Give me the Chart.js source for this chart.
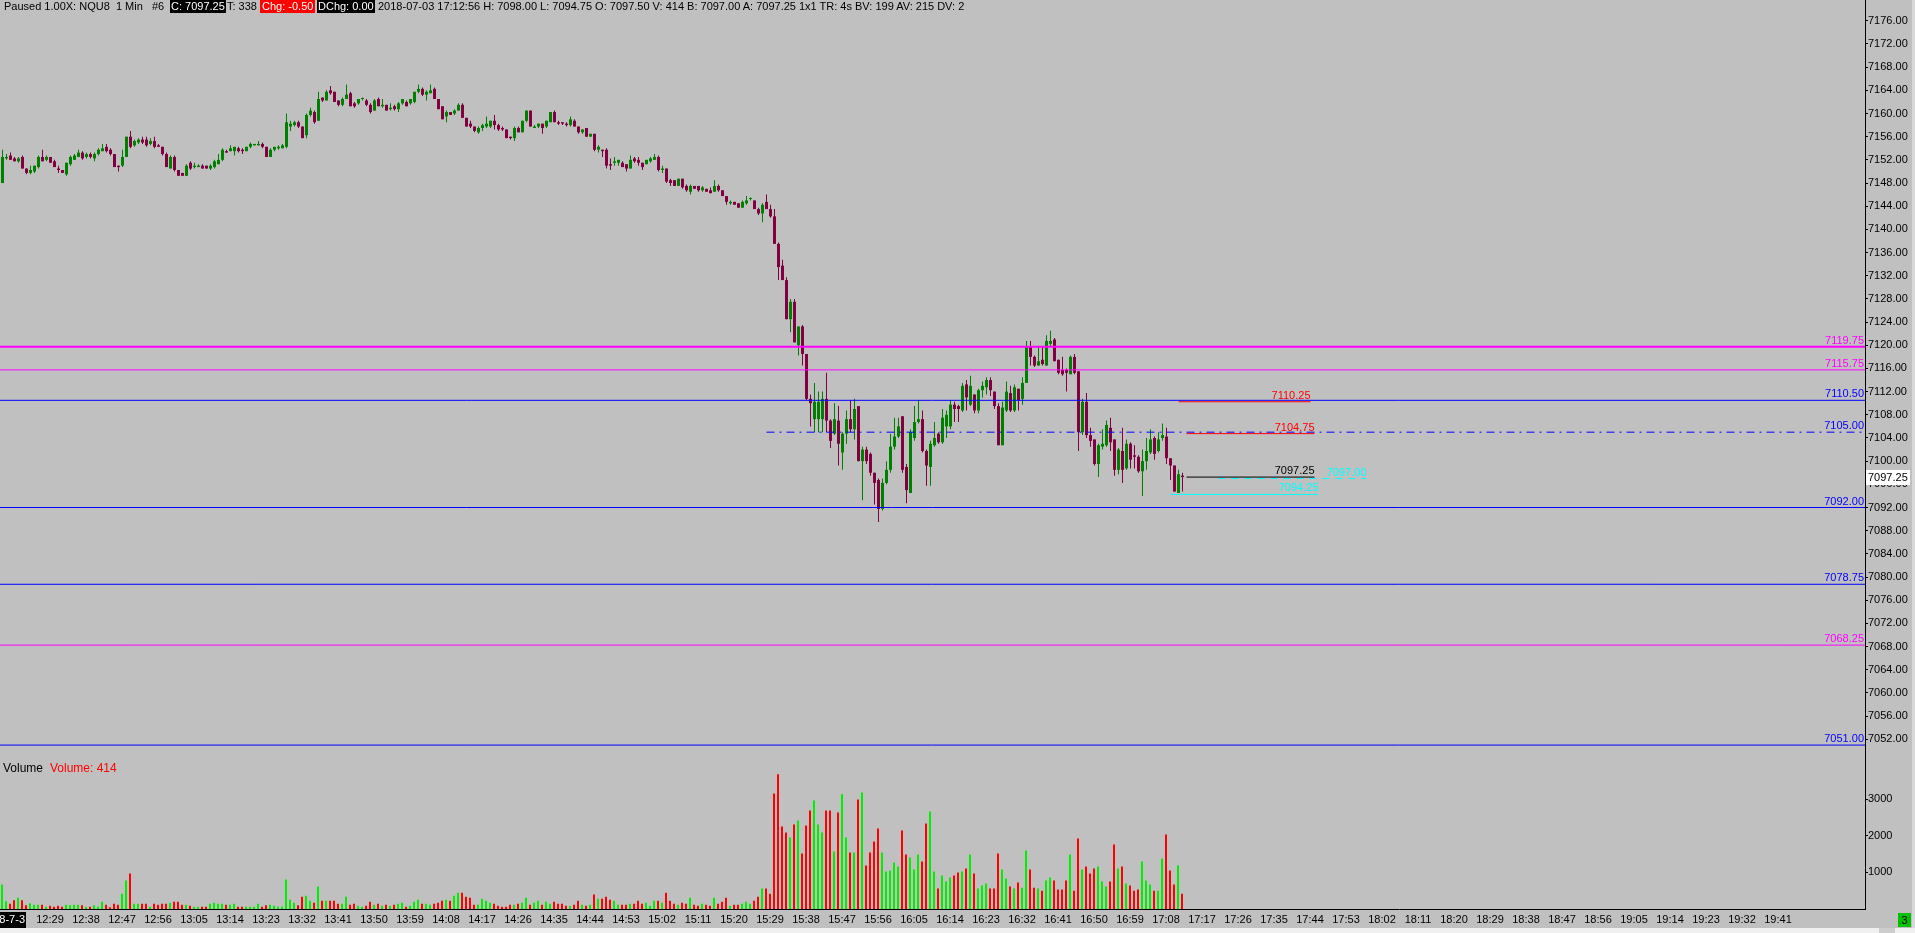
<!DOCTYPE html>
<html><head><meta charset="utf-8">
<script src="https://cdn.jsdelivr.net/npm/chart.js@4.4.0/dist/chart.umd.min.js"></script>
<style>
html,body{margin:0;padding:0;background:#c0c0c0;overflow:hidden}
#wrap{position:relative;width:1915px;height:933px;background:#c0c0c0;font-family:"Liberation Sans",Arial,sans-serif;font-size:11px;color:#000}
canvas{position:absolute;left:0}
.t{position:absolute;top:0;height:13px;line-height:13px;white-space:pre;z-index:2}
.bx{color:#fff;background:#000;padding:0 1px}
.vl{position:absolute;top:761px;font-size:12px;line-height:14px;white-space:pre;z-index:2}
</style></head><body>
<div id="wrap">
<canvas id="pc" width="1915" height="757" style="top:0;width:1915px;height:757px"></canvas>
<canvas id="vc" width="1915" height="176" style="top:757px;width:1915px;height:176px"></canvas>
<div class="t" style="left:4px">Paused 1.00X: NQU8  1 Min   #6</div>
<div class="t bx" style="left:170px">C: 7097.25</div>
<div class="t" style="left:227px">T: 338</div>
<div class="t bx" style="left:260px;background:#ff0000;padding:0 2px">Chg: -0.50</div>
<div class="t bx" style="left:317px">DChg: 0.00</div>
<div class="t" style="left:378px">2018-07-03 17:12:56 H: 7098.00 L: 7094.75 O: 7097.50 V: 414 B: 7097.00 A: 7097.25 1x1 TR: 4s BV: 199 AV: 215 DV: 2</div>
<div class="vl" style="left:3px">Volume</div>
<div class="vl" style="left:50px;color:#ff0000">Volume: 414</div>
<div style="position:absolute;left:1912px;top:0;width:3px;height:928px;background:#d8d8d8"></div>
<div style="position:absolute;left:0;top:928px;width:1915px;height:5px;background:#f0f0f0"></div>
<div style="position:absolute;left:1879px;top:928px;width:16px;height:5px;background:#cdcdcd"></div>
<div style="position:absolute;left:1898px;top:913px;width:13px;height:14px;background:#00c000;color:#000;font-size:11px;line-height:14px;text-align:center">3</div>
</div>
<script>
// ---------------- DATA ----------------
const firstBarTime = '12:17';
const open = [7148,7152.25,7152.75,7152.25,7151.75,7152.5,7150.5,7149.75,7150,7150.75,
7152.5,7152,7152.5,7151.75,7150.5,7150.25,7149.5,7151.25,7152,7152.5,
7153.25,7152.5,7153,7152.25,7153,7153.5,7154.25,7153.75,7153,7151,
7151,7152.5,7156,7154.5,7155,7155.5,7155.5,7154.75,7155.25,7154.5,
7154.25,7153,7150.5,7152.5,7150.25,7149.75,7149.25,7151.5,7150.75,7150.75,
7151,7151,7150.5,7150.75,7151.25,7152,7153.5,7153.5,7153.5,7154,
7153.75,7153.5,7154.25,7154.5,7154.5,7154.75,7154.25,7152.5,7153.75,7154,
7154,7154.25,7157.75,7158,7158.5,7157.75,7156.25,7159.75,7160.25,7158.75,
7162.75,7162.25,7164,7163.75,7162.25,7161.5,7162.5,7163.5,7161.75,7161.75,
7162.5,7162.25,7161.5,7160.5,7162.5,7161.25,7161.5,7160.75,7161.25,7160.75,
7161.75,7162,7161.75,7162,7163.75,7164.25,7163.25,7163.5,7164.25,7162.5,
7161.25,7159.5,7160.25,7160,7160.5,7161.5,7159.25,7158.25,7157.75,7156.75,
7157.5,7157.75,7157.75,7158.75,7158,7157.5,7157.25,7156,7155.75,7157.5,
7156.75,7158.75,7160.5,7157.5,7157.75,7158.25,7157.75,7158.5,7160.25,7158.5,
7158.5,7158.25,7158,7158.75,7157.75,7156.75,7157.5,7156,7156.5,7153.75,
7153.75,7153.75,7151.25,7151.5,7151.5,7151.5,7151.25,7150.5,7152.25,7152,
7151.5,7151.25,7151.75,7152,7152.5,7150.25,7150.5,7148.5,7148.5,7147.5,
7148.75,7147.5,7146.5,7147.5,7147.5,7146.75,7147,7146.75,7146.5,7147.5,
7146.75,7145.75,7144.5,7144.75,7144.5,7143.75,7144.5,7145.25,7145,7143.5,
7142.75,7144.75,7143.5,7142.25,7137.5,7133.75,7131.25,7124.5,7127.5,7120,
7123.25,7118.5,7110.75,7107.25,7107.25,7107.25,7110.75,7107,7104.75,7107,
7101.5,7104.75,7107.25,7105.5,7109.5,7100,7102,7101.25,7098,7096.75,
7091.75,7096.25,7098.5,7102.5,7104.25,7107.75,7099,7094.5,7104,7106.75,
7107.25,7101.75,7099,7102.75,7104.75,7103.25,7106,7106,7109.75,7109.5,
7108.75,7113.25,7109.75,7111.5,7108.75,7112.25,7112.75,7114,7112,7109.5,
7102.75,7108.75,7111.75,7108.75,7112.5,7110.75,7113.5,7119.75,7118,7116.5,
7117.5,7116.5,7120.25,7121,7117.5,7115.75,7115.75,7115,7118,7115.5,
7105,7110.25,7104.5,7103.75,7099.5,7102.5,7102.75,7105.75,7103.75,7098.5,
7101.75,7098.75,7103,7101,7100.75,7098.25,7100,7101.5,7104,7101.75,
7104,7104.25,7100.5,7099.25,7094.5,7097.5];
const high = [7153.75,7153,7153.25,7152.5,7152.5,7152.75,7150.5,7151,7151,7152.75,
7153.75,7152.75,7152.5,7152,7151,7150.25,7151.5,7152.75,7153,7153.75,
7153.5,7153.25,7153.25,7153.25,7154,7154.75,7154.75,7154,7153,7151,
7153.75,7156,7157,7155.5,7155.75,7156,7156,7155.75,7156,7154.75,
7154.25,7153.25,7152.75,7152.75,7150.25,7149.75,7151.25,7151.75,7151.5,7151.25,
7151.25,7151,7151.25,7152,7153,7154,7153.75,7154.5,7154.25,7154.25,
7154,7154.25,7155,7154.75,7155.25,7155,7154.25,7154,7154.25,7154.5,
7154.75,7160,7158.75,7158.75,7158.75,7157.75,7160,7161,7160.5,7163.75,
7162.75,7164,7164.75,7163.75,7162.25,7162.75,7165,7163.75,7162,7162.5,
7162.75,7162.5,7161.75,7162.5,7162.75,7162.5,7161.5,7161.75,7161.5,7162,
7162.5,7162.25,7162.5,7163.75,7165,7164.5,7164,7165,7164.5,7162.5,
7161.25,7160.5,7160.25,7160.75,7161.75,7161.75,7159.25,7158.75,7157.75,7157.75,
7158.25,7159.5,7158.75,7159.75,7158.25,7157.75,7157.25,7156,7157.75,7157.75,
7158.75,7160.5,7160.5,7158,7158.25,7158.25,7158.75,7160.25,7160.5,7158.75,
7158.5,7158.5,7159.5,7159,7157.75,7157.25,7157.5,7156.5,7156.5,7154.5,
7153.75,7154,7152.25,7152.5,7152,7151.75,7151.25,7152.75,7152.5,7152.5,
7151.5,7152,7152.5,7153,7152.75,7151,7150.5,7148.75,7148.5,7148.75,
7148.75,7147.75,7147.75,7147.5,7147.5,7147.5,7147,7147.25,7148.5,7147.75,
7146.75,7145.75,7145,7144.75,7144.5,7145,7145.75,7145.5,7145,7143.75,
7144.5,7146,7144.25,7143.5,7137.75,7134.75,7131.75,7128,7128,7123.25,
7123.5,7118.5,7111.5,7113.5,7112,7112,7115.25,7107.25,7110,7109.5,
7105,7108.75,7110.5,7110.75,7109.5,7102.5,7102.5,7101.5,7098,7097,
7097,7100,7104.75,7107.5,7107.5,7107.75,7099.5,7105.5,7109.5,7110.5,
7108.75,7102,7103.5,7106.75,7105,7109,7108.75,7110.5,7110.25,7109.75,
7113.5,7114,7114.75,7111.5,7112.5,7113.75,7114.5,7114.5,7112,7110,
7110.25,7113.75,7113,7113.25,7112.5,7114.5,7120.75,7120.75,7118.25,7119.75,
7119.75,7121.75,7122.5,7121.25,7117.5,7118,7116,7118.25,7118.5,7115.5,
7110.75,7111.75,7105.75,7103.75,7103,7105.5,7107,7107.5,7103.75,7102.25,
7105.75,7103.75,7103.25,7102.75,7101,7102,7104,7105.5,7104.25,7105,
7106.5,7105.75,7100.5,7099.25,7098.5,7098];
const low = [7148,7152,7152,7151.75,7151.5,7150.5,7149.5,7149.5,7149.75,7150.5,
7151.75,7151.75,7151.5,7150.75,7149.75,7149.75,7149.25,7151,7152,7152.5,
7152,7152.25,7152.25,7151.75,7152.75,7153.5,7153.25,7152.75,7150.75,7150,
7150.75,7152.5,7154,7154.25,7154.75,7154.75,7154.25,7154.5,7154,7154.25,
7152.75,7150.75,7150.5,7150,7149.25,7149.25,7149.25,7150.25,7150.5,7150.75,
7150.5,7150.5,7150.25,7150.5,7151.25,7151.75,7153.25,7153.5,7152.75,7153.25,
7153,7153.5,7154,7154.5,7154.5,7154,7152.5,7152.5,7153.5,7153.75,
7154,7154,7157,7157.75,7157.5,7155.75,7155.75,7159.5,7158.25,7158.75,
7162,7162.25,7163.25,7162,7161.25,7161.25,7162.5,7161.25,7161,7161.5,
7162.25,7161.25,7160,7160.5,7161.25,7161,7160.5,7160.5,7160.5,7160.25,
7161.5,7161.25,7161.5,7161.75,7163.5,7163,7162.25,7163.5,7162.5,7160.75,
7159,7158.5,7159.75,7159.75,7160.5,7159.25,7157.75,7157.5,7156.75,7156.5,
7157,7157.5,7157.5,7157.25,7157,7157,7155.75,7155.5,7155.25,7156.75,
7156.75,7158.5,7157.75,7157.5,7157.5,7156.5,7157.5,7158.5,7158.5,7158,
7158,7157.75,7157.75,7157.75,7156.5,7156.5,7156,7156,7153.5,7153.25,
7152.5,7150.5,7150.25,7151,7151,7150.75,7150,7150.5,7151.5,7151,
7150.25,7151.25,7151.5,7152,7150,7149.75,7148,7147.5,7147.5,7147.5,
7147,7146.5,7146,7147,7146.5,7146.5,7146.5,7146.25,7146.5,7146.5,
7145.75,7144.25,7144.25,7144.25,7143.75,7143.75,7144.25,7145,7143.5,7142.5,
7141.25,7143.5,7142,7137.5,7131.25,7131.25,7124.5,7122.25,7120.5,7118.25,
7116.5,7110.5,7106,7105,7105,7105,7105,7102.25,7104.5,7099.25,
7098.5,7103,7105,7103.75,7100,7093.25,7099.5,7097.5,7092.5,7089.5,
7091.5,7096,7098,7102,7104,7098,7092.75,7094.5,7103.5,7106.5,
7101.5,7095.75,7095.75,7102.5,7103,7103,7104,7105.5,7106.75,7106.75,
7108.5,7108.75,7109.5,7108.25,7108.25,7111,7111.5,7111.25,7109,7102.75,
7102.75,7108.5,7108.5,7108.5,7108.75,7109.75,7113.5,7116.5,7116.25,7116.5,
7116.5,7116.5,7119.75,7117.25,7115,7114.75,7112,7115,7115,7101.75,
7104.5,7104,7102.5,7099.25,7097.25,7102,7102.5,7101.75,7097.5,7097.75,
7096.25,7098.5,7098.75,7098.75,7098,7094,7098.5,7101.25,7100.25,7101.5,
7103.5,7099.5,7096.75,7094.75,7094.5,7094.75];
const close = [7152.5,7152.5,7152,7151.75,7152.25,7150.5,7149.75,7150.25,7151,7152.5,
7151.75,7152.5,7151.5,7150.75,7150.25,7149.75,7151.5,7152.5,7152.75,7153.25,
7152.25,7153,7152.5,7153,7153.75,7154,7153.5,7153,7150.75,7150.75,
7152.5,7156,7154.25,7155.25,7155.5,7155,7154.5,7155.25,7154.25,7154.25,
7153,7150.75,7152.5,7150.25,7149.25,7149.25,7151,7150.5,7151,7151,
7150.5,7150.5,7151,7151.75,7152,7153.75,7153.25,7154,7154.25,7153.5,
7153.5,7154.25,7154.75,7154.75,7154.75,7154.25,7152.5,7153.75,7154.25,7154.25,
7154.5,7158.5,7158.25,7158.5,7157.75,7155.75,7159.75,7160.5,7158.5,7162.5,
7162.25,7163.75,7163.5,7162,7161.5,7162.5,7163.25,7161.25,7161.25,7162.5,
7162.5,7161.5,7160.25,7162.25,7161.25,7161.5,7160.5,7161,7160.75,7161.75,
7162.5,7161.25,7162.5,7163.75,7164.25,7163.25,7163.75,7164,7162.5,7160.75,
7159,7160.25,7159.75,7160.5,7161.5,7159.25,7157.75,7157.75,7157,7157.5,
7158,7158.25,7158.75,7158,7157.25,7157.25,7155.75,7155.75,7157.5,7156.75,
7158.75,7160.5,7157.75,7157.75,7158.25,7157.5,7158.75,7160.25,7158.5,7158.25,
7158.25,7158,7159,7157.75,7156.75,7157.25,7156,7156.5,7153.75,7154.25,
7153.5,7151,7151,7151.75,7152,7150.75,7150.5,7152,7151.75,7151.5,
7150.75,7152,7152.25,7152.5,7150.25,7150.5,7148.25,7148,7147.5,7148.75,
7147.25,7146.75,7147.5,7147,7146.75,7147.25,7146.5,7146.25,7147.5,7146.75,
7145.75,7144.75,7144.75,7144.25,7143.75,7144.75,7145,7145.25,7143.5,7142.75,
7144.25,7143.5,7142.25,7137.5,7133.5,7131.25,7124.5,7127.5,7120.5,7123.25,
7118.5,7110.75,7110,7110.25,7110.25,7110.75,7107,7103.5,7107.25,7103,
7104.75,7107.25,7105.5,7109,7100,7102,7100,7098,7096.25,7091.75,
7096.25,7098.5,7102.5,7104.25,7106,7098.5,7095,7105,7106.75,7107.25,
7101.75,7099.25,7103,7104,7103.25,7107.5,7108,7109.75,7109,7109,
7113,7111,7113,7108.75,7112.25,7113,7114,7112.25,7109.5,7102.75,
7109.25,7112,7108.75,7112.75,7110.5,7113.5,7119.75,7118,7116.5,7117.25,
7116.75,7120.75,7120.75,7117.25,7115.25,7115,7115.25,7118,7115.25,7105,
7110.25,7104.5,7103.5,7099.5,7102.75,7103,7106.25,7103.25,7098.5,7102,
7098.5,7103,7100.25,7100.75,7098.25,7100,7101.75,7103.75,7101.25,7103.75,
7104.5,7100.5,7099.25,7094.75,7097.75,7097.25];
const volume = [667,210,146,237,310,237,100,155,119,119,
119,64,91,64,91,64,119,100,119,119,
100,64,64,100,64,200,119,46,146,119,
420,776,968,146,146,146,146,64,146,119,
146,146,173,200,200,119,119,91,64,64,
64,64,146,173,146,146,119,119,146,64,
64,64,64,64,146,64,100,119,91,64,
64,803,256,173,100,338,365,228,173,612,
228,228,228,228,146,146,338,119,146,91,
64,91,200,119,146,91,119,91,119,146,
173,64,91,200,256,146,146,119,146,173,
228,256,228,365,447,447,338,310,119,119,
283,228,173,146,91,64,64,119,119,146,
173,310,119,173,228,119,200,146,200,146,
146,91,91,119,228,119,91,119,393,283,
283,338,256,228,119,119,119,146,146,228,
146,173,91,228,228,173,447,228,146,119,
173,146,310,119,91,146,119,91,310,146,
200,310,91,119,119,146,200,146,228,338,
557,557,420,3159,3680,2255,2091,1954,2310,2419,
1516,2283,2693,2967,2310,2091,2693,2693,1570,2639,
3132,1954,1543,1543,2995,3186,1187,1543,1844,2200,
1543,1023,1050,1269,1160,2146,1488,1406,1077,1488,
1296,2337,2666,1023,557,913,749,858,913,995,
1023,1105,1488,968,557,639,694,557,557,1516,
1077,831,612,557,721,584,1598,1077,584,557,
502,776,858,776,530,530,776,1488,502,1926,
1077,1160,968,1105,1160,749,612,749,1762,1105,
1160,694,639,502,530,1296,776,666,502,502,
1379,2036,1050,666,1187,414];
const timeLabels = ['12:29','12:38','12:47','12:56','13:05','13:14','13:23','13:32','13:41','13:50','13:59',
'14:08','14:17','14:26','14:35','14:44','14:53','15:02','15:11','15:20','15:29','15:38','15:47','15:56',
'16:05','16:14','16:23','16:32','16:41','16:50','16:59','17:08','17:17','17:26','17:35','17:44','17:53',
'18:02','18:11','18:20','18:29','18:38','18:47','18:56','19:05','19:14','19:23','19:32','19:41'];
const dateLabel = '2018-7-3';
const priceTicks = [7052,7056,7060,7064,7068,7072,7076,7080,7084,7088,7092,7096,7100,7104,7108,7112,
7116,7120,7124,7128,7132,7136,7140,7144,7148,7152,7156,7160,7164,7168,7172,7176];
const volumeTicks = [1000,2000,3000];
const levelPrices = [7119.75,7115.75,7110.50,7105.00,7092.00,7078.75,7068.25,7051.00];
const markPrices = [7110.25,7104.75,7097.25,7097.00,7094.25];

// ---------------- LAYOUT / STYLE ----------------
const priceRange = {min: 7048.94, max: 7179.59};
const volRange = {min: 0, max: 4153};
const xRangePrice = {min: -0.625, max: 465.625};
const xRangeVol = {min: -0.5, max: 465.75};
const axisW = 50;
const UP = '#008000', DN = '#800040', VUP = '#00ee00', VDN = '#ff0000';
const levelStyle = [
  {color:'#ff00ff', width:2}, {color:'#ff00ff', width:1}, {color:'#0000ff', width:1},
  {color:'#0000ff', width:1, dash:[8,5,2,5], from:191}, {color:'#0000ff', width:1},
  {color:'#0000ff', width:1}, {color:'#ff00ff', width:1}, {color:'#0000ff', width:1}
];
const markStyle = [
  {color:'#ff0000', from:294, to:327}, {color:'#ff0000', from:296, to:328},
  {color:'#000000', from:296, to:328}, {color:'#00ffff', from:304, to:341, dash:[7,6]},
  {color:'#00ffff', from:292, to:329}
];
const FONT = '"Liberation Sans", Arial, sans-serif';

Chart.defaults.font.family = FONT;
Chart.defaults.font.size = 11;
Chart.defaults.color = '#000';

const isUp = close.map((c, i) => c >= open[i]);
const toMin = s => { const p = s.split(':').map(Number); return p[0] * 60 + p[1]; };
const timeIdx = timeLabels.map(t => toMin(t) - toMin(firstBarTime));

const levelSets = levelPrices.map((p, k) => {
  const st = levelStyle[k];
  const from = st.from !== undefined ? st.from : xRangePrice.min;
  return {type:'line', data:[{x:from, y:p}, {x:xRangePrice.max, y:p}], borderColor:st.color,
    borderWidth:st.width, borderDash:st.dash || [], pointRadius:0, fill:false, order:0};
});
const markSets = markPrices.map((p, k) => {
  const st = markStyle[k];
  return {type:'line', data:[{x:st.from, y:p}, {x:st.to, y:p}], borderColor:st.color,
    borderWidth:1, borderDash:st.dash || [], pointRadius:0, fill:false, order:0};
});

const barBase = {type:'bar', grouped:false, borderWidth:0, inflateAmount:0, borderSkipped:false};

const labelPlugin = {
  id:'levelLabels',
  afterDatasetsDraw(chart) {
    const {ctx, scales:{x, y}, chartArea} = chart;
    ctx.save();
    ctx.font = '11px ' + FONT;
    ctx.textAlign = 'right';
    ctx.textBaseline = 'bottom';
    levelPrices.forEach((p, k) => {
      ctx.fillStyle = levelStyle[k].color;
      ctx.fillText(p.toFixed(2), chartArea.right - 1, Math.round(y.getPixelForValue(p)) - 1);
    });
    markPrices.forEach((p, k) => {
      ctx.fillStyle = markStyle[k].color;
      ctx.fillText(p.toFixed(2), x.getPixelForValue(markStyle[k].to), Math.round(y.getPixelForValue(p)) - 1);
    });
    ctx.restore();
  }
};
const lastPricePlugin = {
  id:'lastPrice',
  afterDraw(chart) {
    const {ctx, scales:{y}} = chart;
    const v = close[close.length - 1];
    const py = Math.round(y.getPixelForValue(v));
    ctx.save();
    ctx.fillStyle = '#fff';
    ctx.fillRect(y.left + 1, py - 7, 44, 15);
    ctx.fillStyle = '#000';
    ctx.font = '11px ' + FONT;
    ctx.textAlign = 'left';
    ctx.textBaseline = 'middle';
    ctx.fillText(v.toFixed(2), y.left + 3, py + 0.5);
    ctx.restore();
  }
};
const datePlugin = {
  id:'dateLabel',
  afterDraw(chart) {
    const {ctx, scales:{x}} = chart;
    ctx.save();
    ctx.fillStyle = '#000';
    ctx.fillRect(0, x.top + 3, 26, 16);
    ctx.fillStyle = '#fff';
    ctx.font = '11px ' + FONT;
    ctx.textAlign = 'right';
    ctx.textBaseline = 'middle';
    ctx.fillText(dateLabel, 25, x.top + 11);
    ctx.restore();
  }
};

const yAxisCommon = (range, ticks, fmt) => ({
  type:'linear', position:'right', min:range.min, max:range.max, beginAtZero:false,
  afterBuildTicks: s => { s.ticks = ticks.map(v => ({value:v})); },
  afterFit: s => { s.width = axisW; s.paddingTop = 0; s.paddingBottom = 0; },
  ticks:{callback:fmt, padding:0, autoSkip:false, color:'#000', font:{size:11}},
  grid:{drawOnChartArea:false, drawTicks:true, tickLength:3, tickColor:'#000'},
  border:{display:true, color:'#000', width:1}
});

new Chart(document.getElementById('pc'), {
  type:'bar',
  data:{datasets:[
    ...levelSets, ...markSets,
    Object.assign({}, barBase, {data: close.map((c, i) => ({x:i, y:[open[i], c]})),
      barThickness:3, maxBarThickness:3, minBarLength:1, order:1,
      backgroundColor: ctx => isUp[ctx.dataIndex] ? UP : DN}),
    Object.assign({}, barBase, {data: close.map((c, i) => ({x:i, y:[low[i], high[i]]})),
      barThickness:1, maxBarThickness:1, minBarLength:1, order:2,
      backgroundColor: ctx => isUp[ctx.dataIndex] ? UP : DN})
  ]},
  options:{
    responsive:false, devicePixelRatio:1, animation:false, events:[],
    layout:{padding:0},
    plugins:{legend:{display:false}, tooltip:{enabled:false}},
    scales:{
      x:{type:'linear', display:false, min:xRangePrice.min, max:xRangePrice.max, offset:false, grid:{offset:false}},
      y: yAxisCommon(priceRange, priceTicks, v => Number(v).toFixed(2))
    }
  },
  plugins:[labelPlugin, lastPricePlugin]
});

new Chart(document.getElementById('vc'), {
  type:'bar',
  data:{datasets:[
    Object.assign({}, barBase, {data: volume.map((v, i) => ({x:i, y:v})),
      barThickness:2, maxBarThickness:2,
      backgroundColor: ctx => isUp[ctx.dataIndex] ? VUP : VDN})
  ]},
  options:{
    responsive:false, devicePixelRatio:1, animation:false, events:[],
    layout:{padding:0},
    plugins:{legend:{display:false}, tooltip:{enabled:false}},
    scales:{
      x:{type:'linear', position:'bottom', min:xRangeVol.min, max:xRangeVol.max, offset:false,
        afterBuildTicks: s => { s.ticks = timeIdx.map(v => ({value:v})); },
        afterFit: s => { s.height = 24; s.paddingLeft = 0; s.paddingRight = 0; },
        ticks:{autoSkip:false, maxRotation:0, minRotation:0, padding:4, color:'#000', font:{size:11},
          callback:(v, i) => timeLabels[i]},
        grid:{drawOnChartArea:false, drawTicks:false, offset:false},
        border:{display:true, color:'#000', width:1}
      },
      y: yAxisCommon(volRange, volumeTicks, v => String(v))
    }
  },
  plugins:[datePlugin]
});
</script>
</body></html>
